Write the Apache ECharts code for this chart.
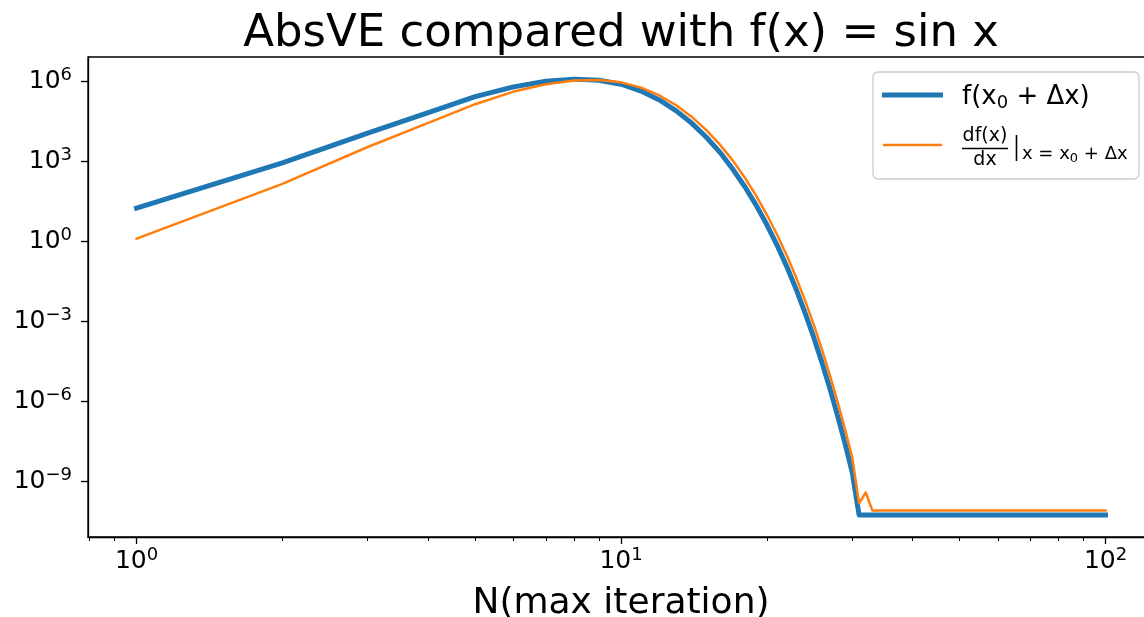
<!DOCTYPE html>
<html>
<head>
<meta charset="utf-8">
<script src="https://cdn.jsdelivr.net/npm/echarts@6/dist/echarts.min.js"></script>
<style>
html,body{margin:0;padding:0;background:#fff;}
#chart{width:1144px;height:617px;}
</style>
</head>
<body>
<div id="chart"></div>
<script>
// ---------- data ----------
const chartTitle = 'AbsVE compared with f(x) = sin x';
const xAxisName = 'N(max iteration)';
const seriesNames = ['f(x\u2080 + \u0394x)', 'df(x)/dx |x = x\u2080 + \u0394x'];

const nValues = [
  1,2,3,4,5,6,7,8,9,10,
  11,12,13,14,15,16,17,18,19,20,
  21,22,23,24,25,26,27,28,29,30,
  31,32,33,34,35,36,37,38,39,40,
  41,42,43,44,45,46,47,48,49,50,
  51,52,53,54,55,56,57,58,59,60,
  61,62,63,64,65,66,67,68,69,70,
  71,72,73,74,75,76,77,78,79,80,
  81,82,83,84,85,86,87,88,89,90,
  91,92,93,94,95,96,97,98,99,100
];

// f(x0 + dx) absolute error
const fValues = [
  17.8, 890, 1.15e4, 6.8e4, 2.7e5, 6.3e5, 1.02e6, 1.23e6, 1.12e6, 7.9e5,
  4.4e5, 2.04e5, 7.9e4, 2.7e4, 8.1e3, 2.2e3, 5.2e2, 1.15e2, 23, 4.2,
  0.71, 0.11, 1.55e-2, 2.0e-3, 2.45e-4, 2.75e-5, 2.9e-6, 2.8e-7, 2.6e-8, 2.2e-9,
  5.4e-11, 5.4e-11, 5.4e-11, 5.4e-11, 5.4e-11, 5.4e-11, 5.4e-11, 5.4e-11, 5.4e-11, 5.4e-11,
  5.4e-11, 5.4e-11, 5.4e-11, 5.4e-11, 5.4e-11, 5.4e-11, 5.4e-11, 5.4e-11, 5.4e-11, 5.4e-11,
  5.4e-11, 5.4e-11, 5.4e-11, 5.4e-11, 5.4e-11, 5.4e-11, 5.4e-11, 5.4e-11, 5.4e-11, 5.4e-11,
  5.4e-11, 5.4e-11, 5.4e-11, 5.4e-11, 5.4e-11, 5.4e-11, 5.4e-11, 5.4e-11, 5.4e-11, 5.4e-11,
  5.4e-11, 5.4e-11, 5.4e-11, 5.4e-11, 5.4e-11, 5.4e-11, 5.4e-11, 5.4e-11, 5.4e-11, 5.4e-11,
  5.4e-11, 5.4e-11, 5.4e-11, 5.4e-11, 5.4e-11, 5.4e-11, 5.4e-11, 5.4e-11, 5.4e-11, 5.4e-11,
  5.4e-11, 5.4e-11, 5.4e-11, 5.4e-11, 5.4e-11, 5.4e-11, 5.4e-11, 5.4e-11, 5.4e-11, 5.4e-11
];

// df/dx at x0 + dx absolute error
const dfValues = [
  1.27, 145, 3.5e3, 2.8e4, 1.41e5, 4.2e5, 7.9e5, 1.1e6, 1.15e6, 9.3e5,
  5.9e5, 3.0e5, 1.29e5, 4.7e4, 1.5e4, 4.3e3, 1.1e3, 2.5e2, 52, 10,
  1.78, 0.29, 4.3e-2, 5.9e-3, 7.4e-4, 8.5e-5, 9.3e-6, 9.3e-7, 8.9e-8, 7.8e-9,
  1.5e-10, 3.8e-10, 8.1e-11, 8.1e-11, 8.1e-11, 8.1e-11, 8.1e-11, 8.1e-11, 8.1e-11, 8.1e-11,
  8.1e-11, 8.1e-11, 8.1e-11, 8.1e-11, 8.1e-11, 8.1e-11, 8.1e-11, 8.1e-11, 8.1e-11, 8.1e-11,
  8.1e-11, 8.1e-11, 8.1e-11, 8.1e-11, 8.1e-11, 8.1e-11, 8.1e-11, 8.1e-11, 8.1e-11, 8.1e-11,
  8.1e-11, 8.1e-11, 8.1e-11, 8.1e-11, 8.1e-11, 8.1e-11, 8.1e-11, 8.1e-11, 8.1e-11, 8.1e-11,
  8.1e-11, 8.1e-11, 8.1e-11, 8.1e-11, 8.1e-11, 8.1e-11, 8.1e-11, 8.1e-11, 8.1e-11, 8.1e-11,
  8.1e-11, 8.1e-11, 8.1e-11, 8.1e-11, 8.1e-11, 8.1e-11, 8.1e-11, 8.1e-11, 8.1e-11, 8.1e-11,
  8.1e-11, 8.1e-11, 8.1e-11, 8.1e-11, 8.1e-11, 8.1e-11, 8.1e-11, 8.1e-11, 8.1e-11, 8.1e-11
];

const xMajorTicks = [1, 10, 100];
const xMinorTicks = [0.8, 0.9, 2, 3, 4, 5, 6, 7, 8, 9, 20, 30, 40, 50, 60, 70, 80, 90];
const yMajorTicks = [1e-9, 1e-6, 1e-3, 1, 1e3, 1e6];

// ---------- chart ----------
const FONT = 'DejaVu Sans';
const chart = echarts.init(document.getElementById('chart'), null, {renderer: 'canvas'});

function powLabel(v) {
  const e = Math.round(Math.log10(v));
  const s = e < 0 ? '\u2212' + Math.abs(e) : String(e);
  return '{b|10}{s|' + s + '}';
}
const powRich = {
  b: {fontSize: 25, fontFamily: FONT, color: '#000', lineHeight: 30},
  s: {fontSize: 18, fontFamily: FONT, color: '#000', lineHeight: 18, verticalAlign: 'top'}
};

const XMIN = 0.794, XMAX = 125.9, YMIN = 8.13e-12, YMAX = 8.32e6;

const option = {
  animation: false,
  backgroundColor: '#fff',
  title: {
    text: chartTitle,
    left: 621,
    top: 12,
    padding: 0,
    textAlign: 'center',
    textStyle: {fontSize: 45, fontFamily: FONT, fontWeight: 'normal', color: '#000'}
  },
  grid: {
    left: 88, top: 57, width: 1066, height: 480,
    show: true, borderColor: '#000', borderWidth: 1.3, backgroundColor: 'transparent',
    containLabel: false, outerBoundsMode: 'none'
  },
  xAxis: [
    {
      type: 'log', logBase: 10, min: XMIN, max: XMAX,
      name: xAxisName, nameLocation: 'middle', nameGap: 49,
      nameTextStyle: {fontSize: 36, fontFamily: FONT, color: '#000'},
      axisLine: {show: true, lineStyle: {color: '#000', width: 1.3}},
      axisTick: {show: true, customValues: xMajorTicks, length: 7, lineStyle: {color: '#000', width: 1.3}},
      axisLabel: {show: true, customValues: xMajorTicks, margin: 9, formatter: powLabel, rich: powRich},
      splitLine: {show: false},
      minorTick: {show: false}
    },
    {
      type: 'log', logBase: 10, min: XMIN, max: XMAX, position: 'bottom',
      axisLine: {show: false},
      axisTick: {show: true, customValues: xMinorTicks, length: 4, lineStyle: {color: '#000', width: 1.0}},
      axisLabel: {show: false},
      splitLine: {show: false}
    }
  ],
  yAxis: {
    type: 'log', logBase: 10, min: YMIN, max: YMAX,
    axisLine: {show: true, lineStyle: {color: '#000', width: 1.3}},
    axisTick: {show: true, customValues: yMajorTicks, length: 7, lineStyle: {color: '#000', width: 1.3}},
    axisLabel: {show: true, customValues: yMajorTicks, margin: 16, formatter: powLabel, rich: powRich},
    splitLine: {show: false}
  },
  series: [
    {
      name: seriesNames[0], type: 'line', xAxisIndex: 0, yAxisIndex: 0,
      showSymbol: false, symbol: 'none',
      lineStyle: {color: '#1f77b4', width: 5, cap: 'square', join: 'round'},
      itemStyle: {color: '#1f77b4'},
      data: nValues.map((n, i) => [n, fValues[i]]),
      z: 2
    },
    {
      name: seriesNames[1], type: 'line', xAxisIndex: 0, yAxisIndex: 0,
      showSymbol: false, symbol: 'none',
      lineStyle: {color: '#ff7f0e', width: 2.5, cap: 'square', join: 'round'},
      itemStyle: {color: '#ff7f0e'},
      data: nValues.map((n, i) => [n, dfValues[i]]),
      z: 3
    }
  ],
  graphic: [
    {type: 'rect', z: 100, shape: {x: 873, y: 72, width: 266, height: 107, r: 5},
     style: {fill: 'rgba(255,255,255,0.8)', stroke: '#cccccc', lineWidth: 1.3}},
    {type: 'line', z: 101, shape: {x1: 882, y1: 95, x2: 943, y2: 95},
     style: {stroke: '#1f77b4', lineWidth: 5}},
    {type: 'text', z: 101, x: 962, y: 97,
     style: {text: '{a|f(x}{sub|0}{a| + \u0394x)}', verticalAlign: 'middle', align: 'left',
       rich: {a: {fontSize: 26, fontFamily: FONT, fill: '#000', lineHeight: 30},
              sub: {fontSize: 18, fontFamily: FONT, fill: '#000', lineHeight: 18, verticalAlign: 'bottom'}}}},
    {type: 'line', z: 101, shape: {x1: 883, y1: 145, x2: 942, y2: 145},
     style: {stroke: '#ff7f0e', lineWidth: 2.5}},
    {type: 'text', z: 101, x: 985, y: 136,
     style: {text: 'df(x)', fontSize: 19, fontFamily: FONT, fill: '#000', align: 'center', verticalAlign: 'middle'}},
    {type: 'line', z: 101, shape: {x1: 962, y1: 148.5, x2: 1008, y2: 148.5},
     style: {stroke: '#000', lineWidth: 1.3}},
    {type: 'text', z: 101, x: 985, y: 160,
     style: {text: 'dx', fontSize: 19, fontFamily: FONT, fill: '#000', align: 'center', verticalAlign: 'middle'}},
    {type: 'line', z: 101, shape: {x1: 1016.5, y1: 135, x2: 1016.5, y2: 161},
     style: {stroke: '#000', lineWidth: 1.6}},
    {type: 'text', z: 101, x: 1022, y: 154,
     style: {text: '{a|x = x}{sub|0}{a| + \u0394x}', verticalAlign: 'middle', align: 'left',
       rich: {a: {fontSize: 18, fontFamily: FONT, fill: '#000', lineHeight: 22},
              sub: {fontSize: 13, fontFamily: FONT, fill: '#000', lineHeight: 13, verticalAlign: 'bottom'}}}}
  ]
};
chart.setOption(option);
</script>
</body>
</html>
